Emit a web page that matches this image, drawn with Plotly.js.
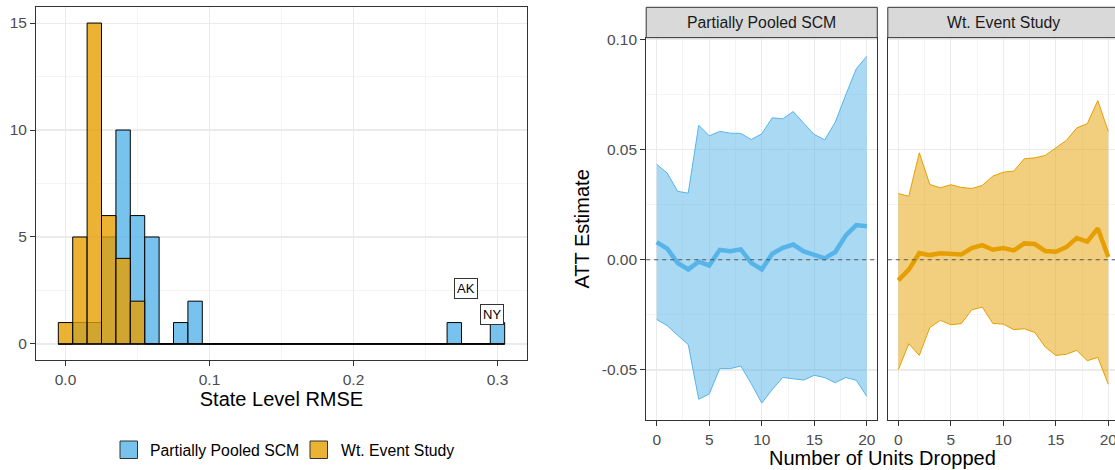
<!DOCTYPE html>
<html><head><meta charset="utf-8">
<script src="https://cdn.plot.ly/plotly-3.0.1.min.js"></script>
<style>html,body{margin:0;padding:0;overflow:hidden;background:#fff;}#chart{width:1125px;height:470px;}</style>
</head><body><div id="chart"></div><script>
// ---------- data ----------
const seriesNames = ["Partially Pooled SCM", "Wt. Event Study"];
const binWidth = 0.01;
const rmseBins = [0.00,0.01,0.02,0.03,0.04,0.05,0.06,0.07,0.08,0.09,0.10,0.11,0.12,0.13,0.14,0.15,0.16,0.17,0.18,0.19,0.20,0.21,0.22,0.23,0.24,0.25,0.26,0.27,0.28,0.29,0.30];
const scmCounts = [0,1,1,5,10,6,5,0,1,2,0,0,0,0,0,0,0,0,0,0,0,0,0,0,0,0,0,1,0,0,1];
const esCounts  = [1,5,15,6,4,2,0,0,0,0,0,0,0,0,0,0,0,0,0,0,0,0,0,0,0,0,0,0,0,0,0];
const outlierLabels = ["AK", "NY"];
const outlierX = [0.278, 0.2965];
const outlierY = [2.57, 1.40];
const histXTicks = [0, 0.1, 0.2, 0.3];
const histXTickText = ["0.0", "0.1", "0.2", "0.3"];
const histYTicks = [0, 5, 10, 15];

const droppedUnits = [0,1,2,3,4,5,6,7,8,9,10,11,12,13,14,15,16,17,18,19,20];
const scmEst   = [0.0080,0.0050,-0.0015,-0.0044,-0.0009,-0.0026,0.0045,0.0039,0.0047,-0.0014,-0.0044,0.0027,0.0054,0.0069,0.0038,0.0024,0.0006,0.0035,0.0110,0.0157,0.0152];
const scmLower = [-0.0271,-0.0299,-0.0343,-0.0385,-0.0633,-0.0609,-0.0494,-0.0494,-0.0482,-0.0562,-0.0650,-0.0589,-0.0534,-0.0540,-0.0546,-0.0524,-0.0535,-0.0558,-0.0534,-0.0547,-0.0620];
const scmUpper = [0.0433,0.0393,0.0310,0.0302,0.0610,0.0562,0.0582,0.0574,0.0573,0.0545,0.0571,0.0644,0.0639,0.0672,0.0619,0.0568,0.0544,0.0624,0.0748,0.0866,0.0923];
const esEst    = [-0.0094,-0.0045,0.0030,0.0021,0.0029,0.0025,0.0024,0.0053,0.0066,0.0045,0.0053,0.0042,0.0074,0.0071,0.0039,0.0036,0.0057,0.0098,0.0082,0.0142,0.0012];
const esLower  = [-0.0499,-0.0381,-0.0434,-0.0308,-0.0275,-0.0295,-0.0290,-0.0227,-0.0215,-0.0289,-0.0292,-0.0317,-0.0313,-0.0330,-0.0396,-0.0434,-0.0429,-0.0411,-0.0458,-0.0443,-0.0565];
const esUpper  = [0.0300,0.0288,0.0485,0.0341,0.0326,0.0340,0.0328,0.0323,0.0337,0.0379,0.0397,0.0402,0.0458,0.0462,0.0473,0.0508,0.0541,0.0598,0.0617,0.0722,0.0582];
const attXTicks = [0, 5, 10, 15, 20];
const attYTicks = [-0.05, 0, 0.05, 0.10];
const attYTickText = ["-0.05", "0.00", "0.05", "0.10"];

// ---------- style ----------
const W = 1125, H = 470;
const FONT = "Liberation Sans, Arial, Helvetica, sans-serif";
const BLUE = "#56B4E9", ORANGE = "#E69F00";
const px = v => v / W;
const py = v => 1 - v / H;

function axisBase(extra) {
  return Object.assign({
    showline: true, mirror: true, linecolor: "#333333", linewidth: 1,
    ticks: "outside", ticklen: 5, tickcolor: "#333333", tickwidth: 1,
    tickfont: {family: FONT, size: 15.5, color: "#4D4D4D"},
    showgrid: true, gridcolor: "#EBEBEB", gridwidth: 1.1,
    zeroline: false, fixedrange: true, tickmode: "array"
  }, extra);
}

const traces = [];
traces.push({type: "bar", x: rmseBins, y: scmCounts, width: binWidth, name: seriesNames[0],
  marker: {color: "rgba(86,180,233,0.8)", line: {color: "#000000", width: 1}},
  xaxis: "x", yaxis: "y", showlegend: false, hoverinfo: "skip"});
traces.push({type: "bar", x: rmseBins, y: esCounts, width: binWidth, name: seriesNames[1],
  marker: {color: "rgba(230,159,0,0.8)", line: {color: "#000000", width: 1}},
  xaxis: "x", yaxis: "y", showlegend: false, hoverinfo: "skip"});
traces.push({type: "scatter", mode: "lines",
  x: [rmseBins[0] - binWidth / 2, rmseBins[rmseBins.length - 1] + binWidth / 2], y: [0, 0],
  line: {color: "#000000", width: 1}, xaxis: "x", yaxis: "y", showlegend: false, hoverinfo: "skip"});

function ribbon(lower, upper, est, color, fill, xa, ya) {
  traces.push({type: "scatter", mode: "lines", x: droppedUnits, y: lower,
    line: {color: color, width: 1}, xaxis: xa, yaxis: ya, showlegend: false, hoverinfo: "skip"});
  traces.push({type: "scatter", mode: "lines", x: droppedUnits, y: upper, fill: "tonexty", fillcolor: fill,
    line: {color: color, width: 1}, xaxis: xa, yaxis: ya, showlegend: false, hoverinfo: "skip"});
  traces.push({type: "scatter", mode: "lines", x: droppedUnits, y: est,
    line: {color: color, width: 4.5}, xaxis: xa, yaxis: ya, showlegend: false, hoverinfo: "skip"});
}
ribbon(scmLower, scmUpper, scmEst, BLUE, "rgba(86,180,233,0.5)", "x2", "y2");
ribbon(esLower, esUpper, esEst, ORANGE, "rgba(230,159,0,0.5)", "x3", "y3");

const minorGrid = (dt, t0) => ({showgrid: true, dtick: dt, tick0: t0, gridcolor: "#EBEBEB", gridwidth: 0.55, ticks: ""});

function paperText(text, x, y, size, color, xanchor) {
  return {text: text, xref: "paper", yref: "paper", x: px(x), y: py(y), showarrow: false,
    xanchor: xanchor || "center", yanchor: "middle", font: {family: FONT, size: size, color: color}};
}

const layout = {
  width: W, height: H, autosize: false,
  margin: {l: 0, r: 0, t: 0, b: 0, pad: 0},
  paper_bgcolor: "#ffffff", plot_bgcolor: "#ffffff",
  font: {family: FONT, color: "#000000"},
  barmode: "overlay", bargap: 0,
  showlegend: false,
  xaxis: axisBase({domain: [px(36), px(527)], anchor: "y", range: [-0.0205, 0.3205],
    tickvals: histXTicks, ticktext: histXTickText, minor: minorGrid(0.05, 0),
    title: {text: "State Level RMSE", font: {family: FONT, size: 20, color: "#000"}, standoff: 4}}),
  yaxis: axisBase({domain: [py(360), py(7)], anchor: "x", range: [-0.75, 15.75],
    tickvals: histYTicks, ticktext: histYTicks.map(String), minor: minorGrid(2.5, 0)}),
  xaxis2: axisBase({domain: [px(646.2), px(877.3)], anchor: "y2", range: [-1, 21],
    tickvals: attXTicks, ticktext: attXTicks.map(String), minor: minorGrid(2.5, 0)}),
  yaxis2: axisBase({domain: [py(420), py(37.7)], anchor: "x2", range: [-0.0727, 0.1007],
    tickvals: attYTicks, ticktext: attYTickText, minor: minorGrid(0.025, 0),
    title: {text: "ATT Estimate", font: {family: FONT, size: 20, color: "#000"}, standoff: 6}}),
  xaxis3: axisBase({domain: [px(887.8), px(1118.8)], anchor: "y3", range: [-1, 21],
    tickvals: attXTicks, ticktext: attXTicks.map(String), minor: minorGrid(2.5, 0)}),
  yaxis3: axisBase({domain: [py(420), py(37.7)], anchor: "x3", range: [-0.0727, 0.1007], matches: "y2",
    tickvals: attYTicks, ticktext: attYTickText, showticklabels: false, ticks: "", minor: minorGrid(0.025, 0)}),
  shapes: [
    {type: "rect", xref: "paper", yref: "paper", x0: px(646.2), x1: px(877.3), y0: py(37.7), y1: py(7.3),
      fillcolor: "#D9D9D9", line: {color: "#333333", width: 1}},
    {type: "rect", xref: "paper", yref: "paper", x0: px(887.8), x1: px(1118.8), y0: py(37.7), y1: py(7.3),
      fillcolor: "#D9D9D9", line: {color: "#333333", width: 1}},
    {type: "line", xref: "x2 domain", yref: "y2", x0: 0, x1: 1, y0: 0, y1: 0,
      line: {color: "#555555", width: 1.1, dash: "4px,4px"}},
    {type: "line", xref: "x3 domain", yref: "y3", x0: 0, x1: 1, y0: 0, y1: 0,
      line: {color: "#555555", width: 1.1, dash: "4px,4px"}},
    {type: "rect", xref: "paper", yref: "paper", x0: px(120), x1: px(137.5), y0: py(458.5), y1: py(441),
      fillcolor: "rgba(86,180,233,0.8)", line: {color: "#333333", width: 1}},
    {type: "rect", xref: "paper", yref: "paper", x0: px(310), x1: px(327.5), y0: py(458.5), y1: py(441),
      fillcolor: "rgba(230,159,0,0.8)", line: {color: "#333333", width: 1}}
  ],
  annotations: [
    {text: outlierLabels[0], x: outlierX[0], y: outlierY[0], xref: "x", yref: "y", showarrow: false,
      xanchor: "center", yanchor: "middle",
      bgcolor: "#ffffff", bordercolor: "#333333", borderwidth: 1, borderpad: 2, font: {family: FONT, size: 13, color: "#000"}},
    {text: outlierLabels[1], x: outlierX[1], y: outlierY[1], xref: "x", yref: "y", showarrow: false,
      xanchor: "center", yanchor: "middle",
      bgcolor: "#ffffff", bordercolor: "#333333", borderwidth: 1, borderpad: 2, font: {family: FONT, size: 13, color: "#000"}},
    paperText(seriesNames[0], (646.2 + 877.3) / 2, 22.5, 15.8, "#1A1A1A"),
    paperText(seriesNames[1], (887.8 + 1118.8) / 2, 22.5, 15.8, "#1A1A1A"),
    paperText("Number of Units Dropped", 882.5, 457.5, 20, "#000"),
    paperText(seriesNames[0], 148, 450, 15.8, "#000", "left"),
    paperText(seriesNames[1], 338.5, 450, 15.8, "#000", "left")
  ]
};

Plotly.newPlot("chart", traces, layout, {staticPlot: true, displayModeBar: false});
</script></body></html>
